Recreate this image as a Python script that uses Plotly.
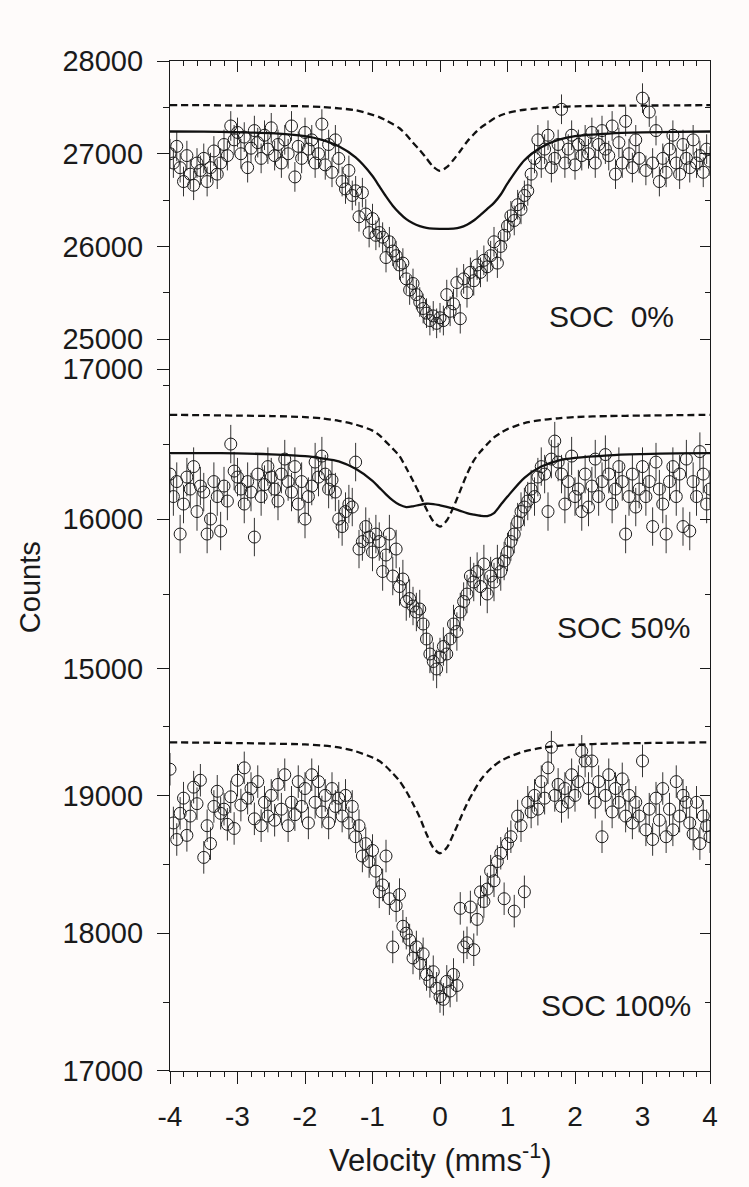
import numpy as np
import plotly.graph_objects as go

# ---------------- data ----------------
V_START, V_STEP, N_CH = -4.0, 0.05, 161
velocity = np.round(V_START + V_STEP * np.arange(N_CH), 3)

soc0_counts = [
    27000, 26900, 27080, 26850, 26700, 26980, 26780, 26660, 26900, 26820,
    26950, 26700, 26850, 27030, 26780, 26900, 27100, 26980, 27300, 27150,
    27230, 27000, 27180, 26850, 27060, 27250, 27120, 26950, 27200, 27050,
    27280, 26980, 27100, 26900, 27150, 27000, 27300, 26750, 27080, 26950,
    27230, 27050, 27150, 26900, 27000, 27320, 26880, 27100, 26800, 27150,
    26950, 26700, 26620, 26820, 26550, 26600, 26320, 26580, 26350, 26150,
    26300, 26120, 26150, 26100, 25880, 26050, 25950, 25900, 25800, 25820,
    25650, 25530, 25600, 25480, 25400, 25330, 25280, 25200, 25250, 25170,
    25230, 25200, 25480, 25300, 25380, 25610, 25220, 25650, 25500, 25720,
    25630, 25800, 25720, 25850, 25780, 25900, 26050, 25820, 26000, 26120,
    26220, 26330, 26280, 26450, 26400, 26550, 26600, 26780, 26950, 27150,
    26900, 27050, 27200, 26850, 26950, 27100, 27480, 26900, 27050, 27200,
    26880, 27100, 26980, 27150, 27000, 27230, 26900, 27100, 27250, 27050,
    26980, 27300, 26780, 27120, 26900, 27350, 27000, 26850, 27150, 26950,
    27600, 26820, 27450, 26900, 27250, 26700, 26950, 26800, 27050, 27200,
    26900, 26780, 27100, 26950, 26850, 27150, 26900, 26980, 26800, 27050,
    26920,
]
soc50_counts = [
    16300, 16150, 16250, 15900, 16100, 16280, 16200, 16350, 16050, 16220,
    16180, 15900, 16000, 16250, 16150, 15920, 16220, 16120, 16500, 16320,
    16280, 16200, 16100, 16250, 16180, 15880, 16300, 16150, 16230, 16350,
    16280, 16200, 16120, 16300, 16400, 16250, 16180, 16350, 16100, 16250,
    16000, 16150, 16220, 16380, 16280, 16420, 16300, 16200, 16260, 16180,
    16000, 15950, 16050, 16100, 16080, 16380, 15800, 15850, 15950, 15880,
    15780, 15900, 15850, 15650, 15760, 15900, 15620, 15800, 15550, 15600,
    15450, 15470, 15420, 15380, 15400, 15300, 15200, 15100, 15050, 15000,
    15080, 15150, 15100, 15200, 15300, 15250, 15380, 15450, 15500, 15620,
    15580, 15650, 15550, 15700, 15500, 15620, 15580, 15700, 15650, 15720,
    15780, 15850, 15900, 15980, 16050, 16080, 16120, 16200, 16150, 16280,
    16350, 16300, 16050, 16400, 16520, 16380, 16300, 16100, 16250, 16420,
    16150, 16200, 16050, 16300, 16080, 16220, 16400, 16150, 16250, 16430,
    16300, 16100, 16200, 16350, 16250, 15900, 16150, 16300, 16080, 16200,
    16350, 16150, 16250, 15950, 16380, 16200, 16100, 15900, 16250, 16350,
    16150, 16300, 15950, 16400, 15920, 16250, 16150, 16450, 16300, 16100,
    16200,
]
soc100_counts = [
    19190, 18800, 18680, 18870, 18980, 18710, 18850, 19060, 18940, 19110,
    18550, 18780, 18650, 18920, 19030, 18870, 18900, 18790, 18990, 18760,
    19110, 18930, 19200, 18980, 19050, 18830, 19100, 18780, 18950, 18850,
    19000, 18820, 19080, 18900, 19150, 18780, 18950, 18860, 19100, 18920,
    19050, 18800, 19150, 18950, 19100, 18880, 19000, 18800, 19050, 18920,
    18980, 18850, 19000, 18800, 18920, 18700, 18780, 18560, 18650, 18520,
    18600, 18450, 18300, 18350, 18560, 18250, 17900, 18200, 18280, 18050,
    18000, 17950, 17820, 17900, 17780, 17850, 17700, 17650, 17720, 17600,
    17540, 17520, 17650, 17580, 17700, 17620, 18180, 17900, 17930, 18190,
    17880, 18100, 18300, 18230, 18320, 18450, 18380, 18520, 18580, 18250,
    18650, 18700, 18160, 18850, 18780, 18300, 18950, 18880, 19000, 18900,
    19100, 18980, 19200, 19350, 19000, 19080, 18920, 19050, 18950, 19150,
    19000, 19100, 19320, 19250, 19050, 19250, 18950, 19100, 18700, 19000,
    19150, 18880, 19050, 18950, 19120, 18850, 19000, 18800, 18950, 18850,
    19250, 18750, 18900, 18680, 18980, 18820, 19050, 18700, 18900, 18750,
    19100, 18850, 19000, 18950, 18800, 18720, 18950, 18650, 18850, 18780,
    18700,
]
# error bar half-lengths (counts)
soc0_err, soc50_err, soc100_err = 160, 128, 118

# fitted sub-spectra
fit_velocity = [-4, -3.5, -3, -2.5, -2, -1.75, -1.5, -1.25,
                -1.0, -0.9, -0.8, -0.7, -0.6, -0.5, -0.4, -0.3, -0.2, -0.1, 0.0,
                0.1, 0.2, 0.3, 0.4, 0.5, 0.6, 0.7, 0.8, 0.9, 1.0,
                1.25, 1.5, 1.75, 2.0, 2.5, 3.0, 3.5, 4.0]
soc0_solid = [27240, 27238, 27232, 27222, 27190, 27150, 27080, 26960,
              26760, 26650, 26540, 26440, 26360, 26295, 26250, 26220, 26200, 26192, 26190,
              26190, 26192, 26205, 26235, 26280, 26340, 26405, 26470, 26560, 26680,
              26930, 27070, 27150, 27190, 27218, 27230, 27236, 27240]
soc0_dash = [27525, 27525, 27520, 27518, 27512, 27505, 27490, 27470,
             27420, 27395, 27360, 27320, 27275, 27205, 27120, 27040, 26950, 26860, 26815,
             26855, 26935, 27030, 27130, 27210, 27280, 27330, 27380, 27415, 27440,
             27475, 27492, 27505, 27512, 27518, 27520, 27522, 27525]
soc50_solid = [16440, 16440, 16438, 16432, 16420, 16405, 16385, 16335,
               16255, 16210, 16165, 16125, 16095, 16080, 16085, 16095, 16102, 16100, 16092,
               16082, 16070, 16055, 16040, 16030, 16022, 16020, 16040, 16095, 16150,
               16275, 16350, 16390, 16408, 16425, 16433, 16438, 16440]
soc50_dash = [16695, 16693, 16690, 16687, 16680, 16672, 16655, 16630,
              16590, 16560, 16515, 16470, 16420, 16340, 16255, 16165, 16065, 15985, 15950,
              15990, 16080, 16190, 16300, 16390, 16450, 16500, 16545, 16575, 16600,
              16640, 16660, 16672, 16680, 16687, 16690, 16693, 16695]
soc100_dash = [19385, 19383, 19380, 19376, 19370, 19362, 19348, 19320,
               19275, 19250, 19210, 19160, 19105, 19030, 18940, 18840, 18720, 18620, 18580,
               18620, 18720, 18830, 18940, 19030, 19110, 19170, 19215, 19250, 19275,
               19320, 19345, 19360, 19368, 19376, 19380, 19383, 19385]

x_tickvals = [-4, -3, -2, -1, 0, 1, 2, 3, 4]
x_ticktext = ["-4", "-3", "-2", "-1", "0", "1", "2", "3", "4"]
panel_labels = ["SOC\u00a0 0%", "SOC 50%", "SOC 100%"]

# ---------------- style ----------------
BG = "#fefbfa"
INK = "#1a1a1a"
FONT = "Arial, Liberation Sans, sans-serif"
LW = 1.2

fig = go.Figure()

def add_panel(counts, err, yax):
    fig.add_trace(go.Scatter(
        x=velocity, y=counts, mode="markers", xaxis="x", yaxis=yax,
        marker=dict(symbol="circle-open", size=12, color=INK, line=dict(width=1, color=INK)),
        error_y=dict(type="constant", value=err, thickness=1, width=0, color="#333333"),
        showlegend=False, hoverinfo="skip"))

def add_fit(vals, yax, dash):
    fig.add_trace(go.Scatter(
        x=fit_velocity, y=vals, mode="lines", xaxis="x", yaxis=yax,
        line=dict(color="#111111", width=2.3, dash=dash, shape="spline", smoothing=0.8),
        showlegend=False, hoverinfo="skip"))

add_panel(soc0_counts, soc0_err, "y")
add_fit(soc0_dash, "y", "7px,4px")
add_fit(soc0_solid, "y", "solid")
add_panel(soc50_counts, soc50_err, "y2")
add_fit(soc50_dash, "y2", "7px,4px")
add_fit(soc50_solid, "y2", "solid")
add_panel(soc100_counts, soc100_err, "y3")
add_fit(soc100_dash, "y3", "7px,4px")

# dummy traces to register mirror axes
for xa, ya in [("x2", "y"), ("x", "y4"), ("x", "y5"), ("x", "y6")]:
    fig.add_trace(go.Scatter(x=[None], y=[None], xaxis=xa, yaxis=ya,
                             showlegend=False, hoverinfo="skip"))

ranges = {"y": [24499, 28001], "y2": [14700, 17000.5], "y3": [16999.5, 19600]}
domains = {"y": [0.6787, 1.0], "y2": [0.3535, 0.6950], "y3": [0.0, 0.3547]}

def y_left(name):
    return dict(domain=domains[name], range=ranges[name], anchor="x",
                tickmode="linear", tick0=0, dtick=1000, tickformat="d",
                ticks="outside", ticklen=12, tickwidth=LW, tickcolor=INK,
                showline=True, linewidth=LW, linecolor=INK,
                showgrid=False, zeroline=False,
                tickfont=dict(size=29, color=INK, family=FONT),
                ticklabelstandoff=8,
                minor=dict(tickmode="linear", tick0=0, dtick=500, ticks="outside",
                           ticklen=6, tickwidth=LW, tickcolor=INK, showgrid=False))

def y_right(base):
    return dict(overlaying=base, side="right", anchor="x", range=ranges[base],
                tickmode="linear", tick0=0, dtick=1000,
                ticks="inside", ticklen=10, tickwidth=LW, tickcolor=INK,
                showticklabels=False, showline=True, linewidth=LW, linecolor=INK,
                showgrid=False, zeroline=False,
                minor=dict(tickmode="linear", tick0=0, dtick=500, ticks="inside",
                           ticklen=5, tickwidth=LW, tickcolor=INK, showgrid=False))

fig.update_layout(
    width=749, height=1187,
    margin=dict(l=170, r=39, t=61, b=116),
    paper_bgcolor=BG, plot_bgcolor=BG,
    showlegend=False,
    font=dict(family=FONT, size=29, color=INK),
    xaxis=dict(domain=[0, 1], anchor="y3", range=[-4, 4],
               tickmode="array", tickvals=x_tickvals, ticktext=x_ticktext,
               ticks="outside", ticklen=12, tickwidth=LW, tickcolor=INK,
               showline=True, linewidth=LW, linecolor=INK,
               showgrid=False, zeroline=False,
               tickfont=dict(size=28, color=INK, family=FONT),
               ticklabelstandoff=8,
               minor=dict(tickmode="linear", tick0=-4, dtick=0.2, ticks="outside",
                          ticklen=5, tickwidth=LW, tickcolor=INK, showgrid=False)),
    xaxis2=dict(overlaying="x", side="top", anchor="y", range=[-4, 4],
                tickmode="array", tickvals=x_tickvals,
                ticks="inside", ticklen=11, tickwidth=LW, tickcolor=INK,
                showticklabels=False, showline=True, linewidth=LW, linecolor=INK,
                showgrid=False, zeroline=False,
                minor=dict(tickmode="linear", tick0=-4, dtick=0.2, ticks="inside",
                           ticklen=5, tickwidth=LW, tickcolor=INK, showgrid=False)),
    yaxis=y_left("y"), yaxis2=y_left("y2"), yaxis3=y_left("y3"),
    yaxis4=y_right("y"), yaxis5=y_right("y2"), yaxis6=y_right("y3"),
)

# axis titles and panel labels
fig.add_annotation(text="Counts", xref="paper", yref="paper", x=-0.2593, y=0.479,
                   textangle=-90, showarrow=False, xanchor="center", yanchor="middle",
                   font=dict(size=29, color=INK, family=FONT))
fig.add_annotation(text="Velocity (mms<sup>-1</sup>)", xref="paper", yref="paper",
                   x=0.5, y=-0.0861, showarrow=False, xanchor="center", yanchor="middle",
                   font=dict(size=31, color=INK, family=FONT))
label_pos = [(0.937, 0.7475), (0.9667, 0.4396), (0.9685, 0.0644)]
for txt, (lx, ly) in zip(panel_labels, label_pos):
    fig.add_annotation(text=txt, xref="paper", yref="paper", x=lx, y=ly,
                       showarrow=False, xanchor="right", yanchor="middle",
                       font=dict(size=30, color=INK, family=FONT))

fig.write_html(
    "out.html",
    config={"displayModeBar": False},
    post_script=("document.body.style.margin='0';"
                 "document.body.style.background='" + BG + "';"),
)
